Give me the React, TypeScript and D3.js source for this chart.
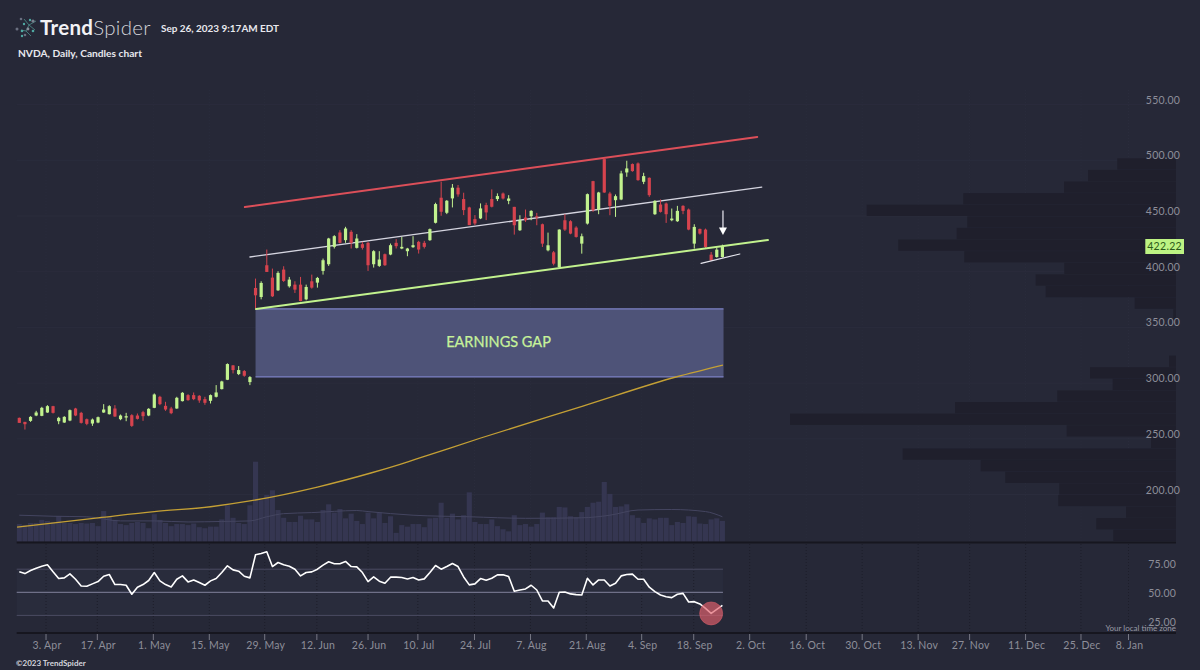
import React from "react";
import * as d3 from "d3";

const opens = [268.8,265.2,266.1,270.9,270.6,273.6,279.3,265.8,264.6,266.4,277.2,273.3,267.6,263.7,264.6,273.6,272.1,277.2,267.6,269.1,271.2,270.9,273.9,270.9,277.8,287.7,279.6,277.2,277.2,283.8,289.2,289.2,288.6,285.6,284.1,287.7,294.6,303,315.9,308.1,310.8,300.9,
385.4,377.3,405.8,394.7,383.3,401.9,386.9,388.4,388.4,375.2,391.4,390.2,400.7,406.7,422.3,435.2,428.3,435.8,421.4,424.7,425.9,406.7,405.2,415.7,415.4,425.9,420.8,418.4,422,426.8,425.9,428.3,443.9,466.4,452.9,465.8,475.4,465.2,457.7,447.2,447.8,459.8,465.2,465.2,
470.2,463.6,458.2,437.2,448.6,449.8,449.8,442.6,419.2,417.4,404.2,446.2,445.3,439.6,425.2,443.2,481.3,455.8,501.1,470.2,464.2,464.8,489.1,496.6,497.2,480.7,484.3,451.6,460.3,461.2,446.2,445.3,459.1,455.8,425.2,438.4,437.8,415.3,413.2,413.2];
const closes = [264.3,263.1,269.7,273.6,277.8,279.3,273.3,268.8,269.7,275.7,270.9,264.3,263.4,267.3,269.4,276.3,279.3,270,270.9,270.3,261.6,267.9,270.3,276.9,289.8,281.1,276.3,273,286.8,291.3,284.7,285.6,284.4,282.3,289.2,291.6,301.5,317.1,311.7,311.7,306.6,305.4,
378.8,389.9,399.8,377.9,398.9,391.7,392.9,383.9,373.7,386.3,385.7,394.4,410.3,429.8,431.9,425.9,438.8,425.9,429.8,421.4,405.8,418.4,410.9,405.8,423.8,422.9,422.3,420.8,423.8,419.9,422.3,438.2,460.7,453.8,463.7,475.4,469.4,455.3,441.8,443.3,456.8,453.2,458.3,467.9,
465.7,465.7,441.7,446.2,446.2,454.6,448.6,425.2,423.7,407.2,437.8,437.8,434.2,431.2,431.8,469.6,455.2,471.1,471.1,459.1,467.8,488.2,492.7,490.3,482.2,485.8,468.7,463.6,453.7,451.6,447.7,454.6,454.6,437.8,440.2,434.2,422.2,410.2,419.8,422.22];
const highs = [269.1,265.2,270.3,275.1,278.7,280.2,279.6,269.7,270.3,276.3,277.8,274.2,268.2,268.2,270,281.1,280.2,280.2,271.8,273.3,272.1,272.7,275.1,277.5,290.7,288.6,283.2,278.7,287.7,291.9,290.1,291.6,289.2,287.7,289.8,298.2,302.1,317.7,316.2,315.3,311.7,306.3,
393.8,391.4,419.9,402.8,400.4,404.9,395.3,391.4,395.3,388.4,397.4,395.3,411.8,430.4,432.8,437.3,440.3,437.3,433.7,426.8,426.8,419.3,418.4,416.3,425.3,429.2,431.3,421.4,431.9,427.7,427.7,438.8,461.9,480.8,464.3,478.7,477.8,470.9,458.3,450.8,461.3,461.9,473.9,470.3,
471.1,468.7,458.2,450.7,455.8,455.2,452.8,443.2,435.1,418.6,438.1,451.6,446.2,440.8,434.2,470.2,481.6,471.7,501.7,471.7,469.3,490.6,499.6,497.2,498.1,488.8,484.6,464.2,464.8,462.1,456.7,459.1,459.7,456.7,442.6,438.7,438.7,417.7,421.3,424.3];
const lows = [264.3,258.3,265.2,270.3,270.3,273.3,272.7,263.1,264.3,265.8,270.3,263.7,262.2,261.6,264,273.3,271.8,269.7,266.7,265.8,260.7,267.3,266.1,270.3,277.5,280.2,275.1,272.1,276.9,283.5,284.1,284.7,282.3,280.5,281.7,287.1,294.3,302.7,308.7,307.2,305.7,298.2,
365.9,375.2,399.8,377.3,382.7,390.8,385.7,380.9,373.4,374.3,384.8,385.7,397.4,405.2,420.8,425.3,425.9,420.8,420.8,419.9,400.7,403.7,404.3,405.2,414.8,420.8,420.2,413.9,421.4,416.3,420.8,427.7,443.3,450.2,451.7,457.7,467.3,450.8,441.8,441.8,447.2,446.3,457.7,463.4,
464.8,460.6,433.3,436.6,444.7,446.2,441.7,422.2,418.3,405.7,403.6,436.6,433.6,430.6,416.2,442.3,453.7,451.6,470.8,450.7,449.2,464.2,485.2,489.7,481.6,478.6,467.2,451,453.1,443.8,445.3,444.7,451.6,437.2,420.7,433.3,421.3,409.6,412.6,412.6];
const volumes = [34,32,36,36,42,40,38,49,36,36,34,36,35,36,30,59,48,42,34,32,36,38,36,26,53,42,36,30,34,34,32,35,28,26,29,29,43,70,46,36,34,70,154,
80,90,99,61,46,38,38,50,43,43,38,61,72,56,63,45,54,40,34,56,
45,56,36,49,17,32,29,34,34,28,45,46,75,46,54,43,51,95,38,34,34,43,30,24,20,51,32,34,29,34,56,47,47,67,66,49,47,57,67,75,77,115,92,67,68,72,51,46,36,45,43,46,46,32,38,36,49,48,35,34,43,45,40];
const rsiValues = [67.7,66.2,68.9,70.9,72.6,73.8,67.7,61.9,62.5,66,61.3,55.5,55.2,57.3,59.3,63.9,65.4,56.7,56.7,56.1,48.3,54.4,56.7,60.2,67.1,59.9,56.7,54.6,61.3,64.2,59,60.7,58.4,56.1,59.9,61.9,67.1,72.9,69.4,68.3,63.9,62.5,82.5,83.6,85.1,72.3,75.8,73.8,72.6,70,64.2,67.1,67.7,70,73.5,76.4,74.7,74.7,76.7,72.3,72,67.1,59.3,
63.3,59.6,57.8,63.1,63.1,62.8,61.6,62.8,60.7,61.6,67.1,73.2,70,72.3,74.9,72.3,63.3,56.4,57.3,61.9,60.4,62.2,65.1,65.1,63.6,50.9,52,52.9,56.1,52,42.5,42.5,36.4,50,50.3,48.6,48,47.7,62.2,56.4,60.7,60.7,55.5,57.8,64.2,65.4,65.7,61.3,61.3,54.4,50.6,47.7,46.2,45.4,48.3,49.1,41.6,41.9,39.9,36.1,31.7,35.2,38.7];

const volMaDays = [0,6,12,18,24,30,36,41,44,47,52,60,62,70,80,90,100,105,110,116,122,125];
const volMaValues = [51,49,48,40,40,38,39,40,48,54,56,60,58,51,48,45,46,51,61,62,58,48];

const smaDays = [-0.4,14,24,34,41,53,62.5,67.7,73,81.9,100.2,116.9,125.1];
const smaPrices = [170.8,179,184.6,189,194.2,206.7,219.3,227.1,235.8,250.5,279.4,305.7,316.2];

const redLine = { days: [40.1,131.2], prices: [458,520.9] };
const whiteLine = { days: [41,132], prices: [413.2,476] };
const greenLine = { days: [42.1,133.1], prices: [366.5,428.4] };
const smallLine = { days: [121.2,128.1], prices: [407.4,415.9] };
const gapDays = [42,125.2];
const gapPrices = [366.6,305.6];

const tickLabels = ["3. Apr","17. Apr","1. May","15. May","29. May","12. Jun","26. Jun","10. Jul","24. Jul","7. Aug","21. Aug","4. Sep","18. Sep","2. Oct","16. Oct","30. Oct","13. Nov","27. Nov","11. Dec","25. Dec","8. Jan"];
const tickDays = [4.75,13.87,23.83,33.78,43.63,52.9,62,70.86,80.93,90.88,100.8,110.65,119.9,129.85,139.9,149.85,159.8,168.95,178.9,188.75,197.2];
const priceTicks = [550,500,450,400,350,300,250,200];
const rsiTicks = [75,50,25];
const rsiBands = [70,50,30];
const profileTop = 501.8;
const profileBin = 10.42;
const profileValues = [58.7,88,112,212.7,309.3,208.7,219.3,277.7,211.7,111.7,140.3,130.3,41.3,2.7,0,0,0,7,86,63.3,118.7,221,386,109.3,25,273.3,195.3,170.7,116.7,117.7,50,79.7,62.7];
const lastClose = 422.22;

const LEFT = 16.7, RIGHT = 1176;
const UP = "#c2f28e", DOWN = "#d6434e", BG = "#262837", AXIS = "#8d8e99", DARK = "#16161f";
const FONT = "Lato, 'Open Sans', sans-serif";

const x = d3.scaleLinear().domain([0,125]).range([19.3,722.4]);
const y = d3.scaleLinear().domain([500,200]).range([160.3,494.5]);
const yVol = d3.scaleLinear().domain([0,154]).range([541.7,461.7]);
const yRsi = d3.scaleLinear().domain([50,70]).range([592.3,569.2]);
const xProfile = d3.scaleLinear().domain([0,386]).range([RIGHT,790]);

const rsiPath = d3.line<number>().x((_,i)=>x(i)).y(d=>yRsi(d))(rsiValues)!;
const smaPath = d3.line<number>().x(d=>x(d)).y((_,i)=>y(smaPrices[i])).curve(d3.curveMonotoneX)(smaDays)!;
const volMaPath = d3.line<number>().x(d=>x(d)).y((_,i)=>yVol(volMaValues[i])).curve(d3.curveMonotoneX)(volMaDays)!;

function Trend({l,color,w}:{l:{days:number[],prices:number[]},color:string,w:number}){
  return <line x1={x(l.days[0])} y1={y(l.prices[0])} x2={x(l.days[1])} y2={y(l.prices[1])} stroke={color} strokeWidth={w} strokeLinecap="round"/>;
}

export default function App(){
  const arrowX = x(125.1);
  return (
    <svg width={1200} height={670} viewBox="0 0 1200 670" style={{position:"absolute",left:0,top:0,display:"block"}} fontFamily={FONT}>
      <defs>
        <clipPath id="plot"><rect x={LEFT} y={0} width={RIGHT-LEFT} height={670}/></clipPath>
      </defs>
      <rect width={1200} height={670} fill={BG}/>

      {/* grid */}
      {priceTicks.map(p=><line key={p} x1={LEFT} x2={RIGHT} y1={y(p)} y2={y(p)} stroke="#2a2c3c" strokeWidth={1}/>)}
      {tickDays.map(d=><line key={d} x1={x(d)} x2={x(d)} y1={90} y2={541} stroke="#2a2c3c" strokeWidth={1} strokeDasharray="1 2"/>)}

      {/* volume profile */}
      {profileValues.map((v,i)=>v>0 && (
        <rect key={i} x={xProfile(v)} width={RIGHT-xProfile(v)} y={y(profileTop-profileBin*i)} height={y(profileTop-profileBin*(i+1))-y(profileTop-profileBin*i)-0.4} fill="#1f1f2c"/>
      ))}

      {/* volume */}
      <g clipPath="url(#plot)">
        {volumes.map((v,i)=><rect key={i} x={x(i)-2.55} width={5.1} y={yVol(v)} height={yVol(0)-yVol(v)} fill="#353651"/>)}
        <path d={volMaPath} fill="none" stroke="#444560" strokeWidth={1}/>
      </g>

      {/* earnings gap */}
      <rect x={x(gapDays[0])} width={x(gapDays[1])-x(gapDays[0])} y={y(gapPrices[0])} height={y(gapPrices[1])-y(gapPrices[0])} fill="#4e5378"/>
      {gapPrices.map(p=><line key={p} x1={x(gapDays[0])} x2={x(gapDays[1])} y1={y(p)} y2={y(p)} stroke="#7c82c6" strokeWidth={1.2}/>)}
      <text x={498.5} y={346.5} textAnchor="middle" fontSize={14.5} fill="#c7f29a" stroke="#c7f29a" strokeWidth={0.25}>EARNINGS GAP</text>

      {/* sma */}
      <path d={smaPath} fill="none" stroke="#c4a035" strokeWidth={1.3}/>

      {/* trend lines */}
      <Trend l={redLine} color="#dc4f59" w={2}/>
      <Trend l={whiteLine} color="#d5d5e0" w={1.3}/>

      {/* candles */}
      <g clipPath="url(#plot)">
        {opens.map((o,i)=>{
          const c = closes[i], col = c>=o?UP:DOWN, cx = x(i);
          return <g key={i}>
            <line x1={cx} x2={cx} y1={y(highs[i])} y2={y(lows[i])} stroke={col} strokeWidth={1}/>
            <rect x={cx-1.6} width={3.2} y={y(Math.max(o,c))} height={Math.max(1,Math.abs(y(o)-y(c)))} fill={col}/>
          </g>;
        })}
      </g>

      <Trend l={greenLine} color="#c2f28e" w={2}/>
      <Trend l={smallLine} color="#e4e4ec" w={1.2}/>

      {/* arrow */}
      <line x1={arrowX} x2={arrowX} y1={210.5} y2={228} stroke="#d0d0da" strokeWidth={1.4}/>
      <path d={`M${arrowX-4},227.5 L${arrowX+4},227.5 L${arrowX},235 Z`} fill="#ffffff"/>

      {/* separators */}
      <line x1={LEFT} x2={RIGHT} y1={542.6} y2={542.6} stroke={DARK} strokeWidth={2}/>

      {/* rsi panel */}
      <rect x={LEFT} width={x(125.1)-LEFT} y={yRsi(70)} height={yRsi(30)-yRsi(70)} fill="#2b2d3f" opacity={0.75}/>
      {tickDays.map(d=><line key={d} x1={x(d)} x2={x(d)} y1={544} y2={632} stroke="#1d1e2a" strokeWidth={1} strokeDasharray="1 2"/>)}
      {rsiBands.map(r=><line key={r} x1={LEFT} x2={x(125.1)} y1={yRsi(r)} y2={yRsi(r)} stroke={r===50?"#6f7088":"#4a4b62"} strokeWidth={r===50?1.2:1}/>)}
      <g clipPath="url(#plot)">
        <path d={rsiPath} fill="none" stroke="#ffffff" strokeWidth={1.6} strokeLinejoin="round"/>
      </g>
      <circle cx={x(123)} cy={yRsi(rsiValues[123])} r={11.5} fill="#e0606c" fillOpacity={0.68} stroke="#e0606c" strokeOpacity={0.5} strokeWidth={1}/>

      {/* x axis */}
      <line x1={LEFT} x2={RIGHT} y1={632.9} y2={632.9} stroke={DARK} strokeWidth={2}/>
      {tickDays.map((d,i)=>(
        <g key={d}>
          <line x1={x(d)} x2={x(d)} y1={634} y2={640} stroke="#777885" strokeWidth={1}/>
          <text x={x(d)+1} y={649} textAnchor="middle" fontSize={10.5} letterSpacing={0.2} fill={AXIS}>{tickLabels[i]}</text>
        </g>
      ))}

      {/* y labels */}
      {priceTicks.map(p=><text key={p} x={1180} y={y(p)-1} textAnchor="end" fontSize={10.5} letterSpacing={0.2} fill={AXIS}>{d3.format(".2f")(p)}</text>)}
      {rsiTicks.map(r=><text key={r} x={1176} y={yRsi(r)+4.5} textAnchor="end" fontSize={10.5} letterSpacing={0.2} fill={AXIS}>{d3.format(".2f")(r)}</text>)}
      <rect x={1145.3} y={239} width={38.7} height={15} fill="#bdf383"/>
      <text x={1164.6} y={250.3} textAnchor="middle" fontSize={10.5} letterSpacing={0.3} fill="#2b5a18">{d3.format(".2f")(lastClose)}</text>
      <text x={1176} y={631} textAnchor="end" fontSize={8} fill="#9a9ba6">Your local time zone</text>

      {/* header */}
      <g fill="none" stroke="#4f8f8c" strokeWidth={0.8}>
        <path d="M24,19 L29,25 L36,21 M29,25 L26,31 L21,30 M26,31 L31,36 M29,25 L35,30"/>
      </g>
      {[[21,19,1.3,"#6a6f80"],[24,24,1.2,"#4fa8a2"],[30,20,1.2,"#4fa8a2"],[33,21,1.6,"#7a7f8e"],[17,29,1.5,"#6a6f80"],[22,31,1.3,"#4fa8a2"],[28,29,1.4,"#8a8f9a"],[33,31,1.3,"#4fa8a2"],[25,35,1.3,"#6a6f80"],[22,36,1.2,"#4fa8a2"]].map((c,i)=>(
        <circle key={i} cx={c[0] as number} cy={c[1] as number} r={c[2] as number} fill={c[3] as string}/>
      ))}
      <text x={40} y={35} fontSize={20.5} letterSpacing={0.3}>
        <tspan fontWeight={700} fill="#f2f2f5">Trend</tspan><tspan fontWeight={300} fill="#d4d5db">Spider</tspan>
      </text>
      <text x={161} y={32} fontSize={9.95} fontWeight={700} fill="#e8e8ee">Sep 26, 2023 9:17AM EDT</text>
      <text x={18} y={57} fontSize={10.2} fontWeight={700} fill="#e8e8ee">NVDA, Daily, Candles chart</text>
      <text x={16} y={666} fontSize={8} fontWeight={700} fill="#d5d5dd">©2023 TrendSpider</text>
    </svg>
  );
}
